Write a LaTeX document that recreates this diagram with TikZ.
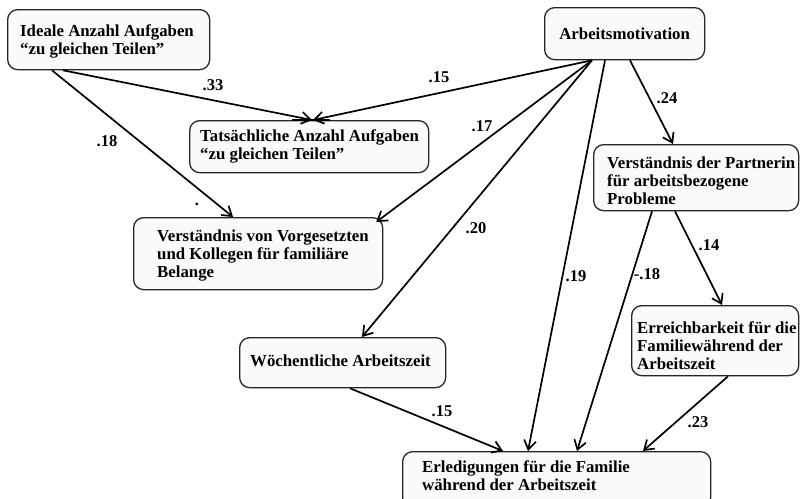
\documentclass[tikz,border=0pt]{standalone}
\usepackage{fontspec}
\setmainfont{Liberation Serif}
\usetikzlibrary{arrows.meta,calc}
\tikzset{
  box/.style={draw=black!85, line width=1.3pt, rounded corners=10pt, fill=gray!4, inner sep=0pt, anchor=north west},
  txt/.style={font=\fontsize{16.8}{18}\selectfont\bfseries, align=left, inner sep=0pt},
  lab/.style={font=\fontsize{16.5}{18}\selectfont\bfseries, inner sep=0pt},
  arr/.style={line width=1.7pt, -{Straight Barb[length=9pt,width=12pt,line width=1.7pt]}}
}
\begin{document}
\begin{tikzpicture}[x=1pt,y=-1pt]
\useasboundingbox (0,0) rectangle (800,498);
% boxes
\node[box, minimum width=202pt, minimum height=60pt] (ideal) at (7,9) {};
\node[box, minimum width=239pt, minimum height=52pt] (tats) at (189,120) {};
\node[box, minimum width=249pt, minimum height=72pt] (vorg) at (133,217) {};
\node[box, minimum width=160pt, minimum height=52pt] (motiv) at (544,7) {};
\node[box, minimum width=205pt, minimum height=66pt] (partner) at (593,144) {};
\node[box, minimum width=206pt, minimum height=50pt] (woch) at (239,337) {};
\node[box, minimum width=167pt, minimum height=70pt] (erreich) at (631,305) {};
\node[box, minimum width=308pt, minimum height=56pt] (erled) at (402,451) {};
% texts
\node[txt, anchor=west] (idealT) at ($(ideal.west)+(13,2)$) {Ideale Anzahl Aufgaben\\“zu gleichen Teilen”};
\node[txt, anchor=west] (tatsT) at ($(tats.west)+(11,0)$) {Tatsächliche Anzahl Aufgaben\\“zu gleichen Teilen”};
\node[txt, anchor=west] (vorgT) at ($(vorg.west)+(24,2)$) {Verständnis von Vorgesetzten\\und Kollegen für familiäre\\Belange};
\node[txt] (motivT) at (motiv.center) {Arbeitsmotivation};
\node[txt, anchor=west] (partnerT) at ($(partner.west)+(14,3)$) {Verständnis der Partnerin\\für arbeitsbezogene\\Probleme};
\node[txt, anchor=west] (wochT) at ($(woch.west)+(11,-2)$) {Wöchentliche Arbeitszeit};
\node[txt, anchor=west] (erreichT) at ($(erreich.west)+(6,5)$) {Erreichbarkeit für die\\Familiewährend der\\Arbeitszeit};
\node[txt, anchor=west] (erledT) at ($(erled.north west)+(20,25)$) {Erledigungen für die Familie\\während der Arbeitszeit};
% thick mark on the top edge of tats
\draw[line width=2.2pt] ($(tats.north west)+(103,0)$) -- ($(tats.north west)+(141,0)$);
% connectors
\draw[arr] ($(ideal.south west)+(45,0)$) -- ($(vorg.north west)+(100,0)$);
\draw[arr] ($(ideal.south west)+(56,0)$) -- ($(tats.north west)+(123,0)$);
\draw[arr] ($(motiv.south west)+(48,0)$) -- ($(tats.north west)+(124,0)$);
\draw[arr] ($(motiv.south west)+(48,0)$) -- ($(vorg.north east)+(-7,5)$);
\draw[arr] ($(motiv.south west)+(48,0)$) -- ($(woch.north west)+(123,0)$);
\draw[arr] ($(motiv.south west)+(61,0)$) -- ($(erled.north west)+(126,0)$);
\draw[arr] ($(motiv.south west)+(86,0)$) -- ($(partner.north west)+(80,0)$);
\draw[arr] ($(partner.south west)+(59,0)$) -- ($(erled.north west)+(175,0)$);
\draw[arr] ($(partner.south west)+(82,0)$) -- ($(erreich.north west)+(91,0)$);
\draw[arr] ($(woch.south west)+(111,0)$) -- ($(erled.north west)+(101,0)$);
\draw[arr] ($(erreich.south west)+(97,0)$) -- ($(erled.north west)+(241,0)$);
% labels
\node[lab] (l1) at (107,141) {.18};
\node[lab] (l2) at (213,85) {.33};
\node[lab] (l3) at (439,77) {.15};
\node[lab] (l4) at (482,126) {.17};
\node[lab] (l5) at (667,98) {.24};
\node[lab] (l6) at (476,228) {.20};
\node[lab] (l7) at (709,245) {.14};
\node[lab] (l8) at (576,276) {.19};
\node[lab] (l9) at (647,274) {-.18};
\node[lab] (l10) at (442,411) {.15};
\node[lab] (l11) at (698,422) {.23};
\node[lab, anchor=base] (dot) at (197,205) {.};
\end{tikzpicture}
\end{document}
